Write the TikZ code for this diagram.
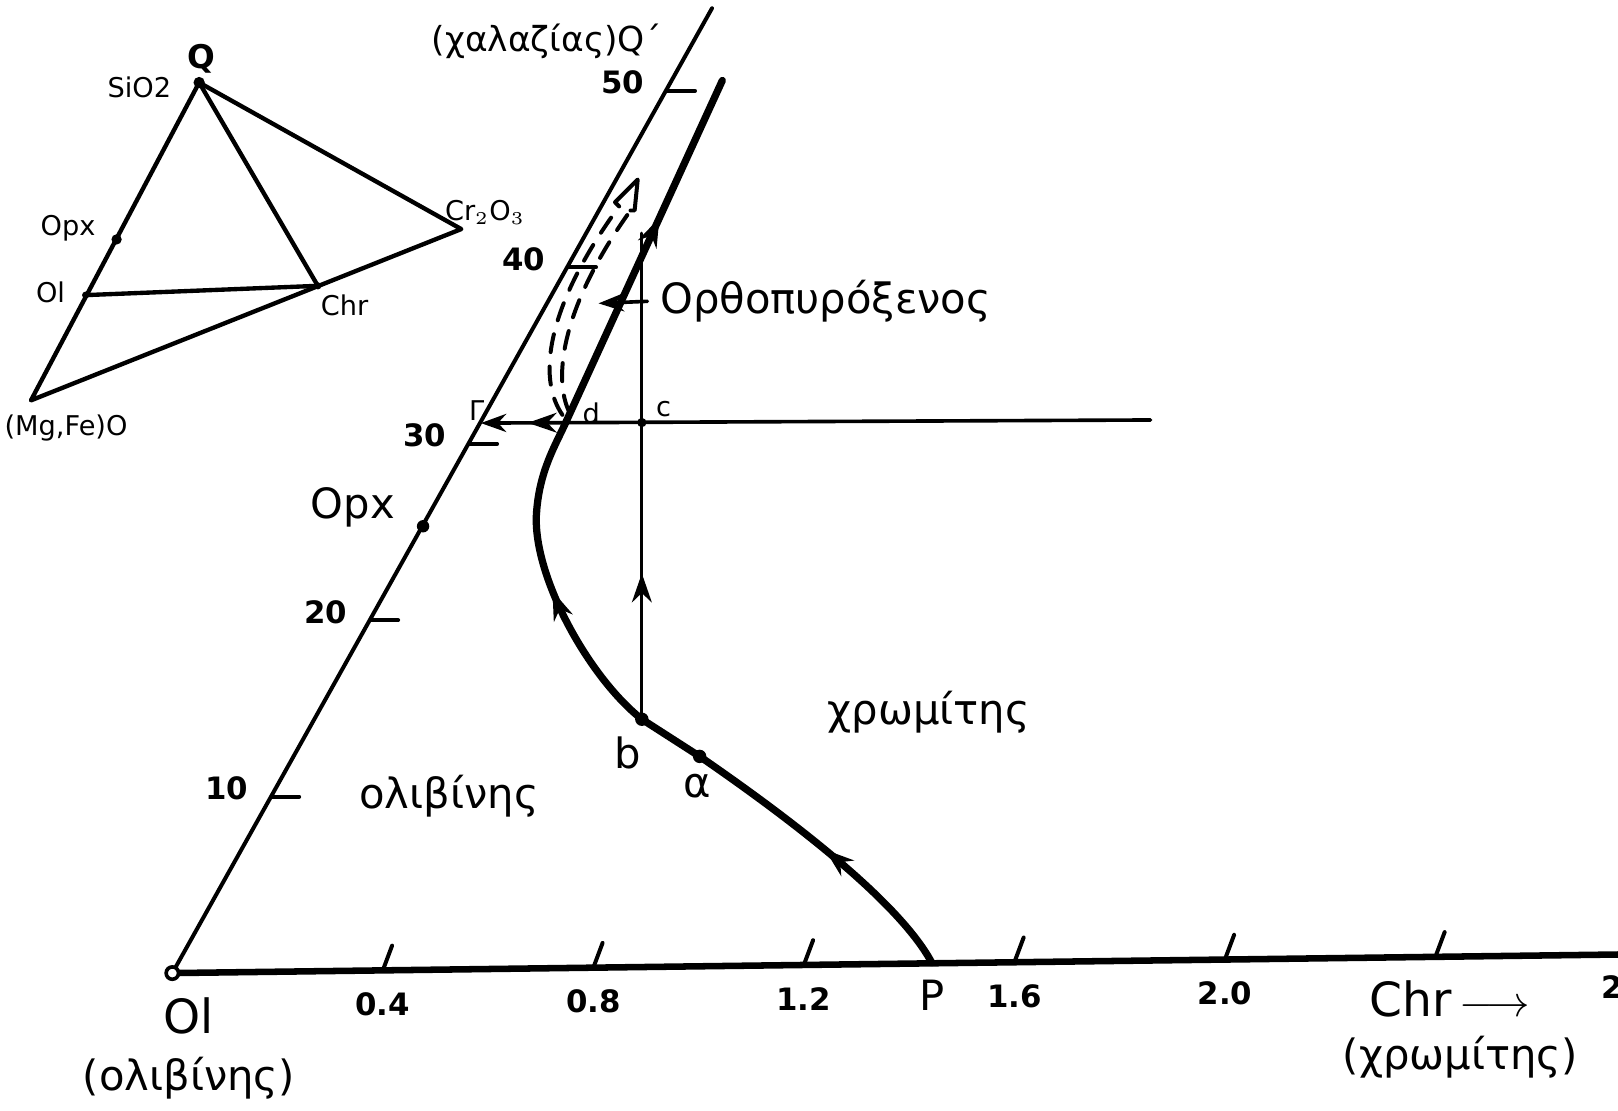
\documentclass[tikz,border=0pt]{standalone}
\usepackage{fontspec}
\setmainfont{DejaVu Sans}
\usetikzlibrary{arrows.meta,positioning,calc,decorations.markings}

\tikzset{
  big/.style={font=\fontsize{13}{15}\selectfont},
  lbl/.style={font=\fontsize{11.5}{13}\selectfont},
  num/.style={font=\fontsize{8.5}{10}\selectfont\bfseries},
  ins/.style={font=\fontsize{7.5}{9}\selectfont},
  edge/.style={line width=1.2pt},
  path/.style={line width=2pt},
  midarrow/.style={postaction={decorate},decoration={markings,
      mark=at position #1 with {\arrow{Stealth[length=8pt,width=5.5pt]}}}},
}

\begin{document}
\begin{tikzpicture}[x=1cm,y=1cm,>=stealth,line cap=round,line join=round]
\useasboundingbox (0,0) rectangle (15.68,10.76);

% small triangle
\coordinate (iq) at (1.93,9.96);
\coordinate (iopx) at (1.13,8.44);
\coordinate (iol) at (0.83,7.90);
\coordinate (ichr) at (3.08,7.99);
\coordinate (icr) at (4.47,8.54);
\coordinate (img) at (0.30,6.88);
\draw[edge] (iq) -- (img) -- (icr) -- cycle;
\draw[edge] (iq) -- (ichr);
\draw[edge] (iol) -- (ichr);
\fill (iq) circle (0.055);
\fill (iopx) circle (0.05);
\fill (iol) circle (0.035);
\fill (ichr) circle (0.035);
\node[ins,font=\fontsize{9}{10}\selectfont\bfseries] (lq) at (1.95,10.19) {Q};
\node[ins] (lsio) at (1.35,9.91) {SiO2};
\node[ins] (liopx) at (0.66,8.55) {Opx};
\node[ins] (liol) at (0.49,7.93) {Ol};
\node[ins] (lichr) at (3.34,7.80) {Chr};
\node[ins] (licr) at (4.70,8.70) {Cr$_2$O$_3$};
\node[ins] (limg) at (0.64,6.61) {(Mg,Fe)O};

% axes
\coordinate (o) at (1.67,1.33);
\coordinate (top) at (6.90,10.68);
\coordinate (xend) at (15.68,1.51);
\draw[line width=1.1pt] (o) -- (top);
\draw[line width=1.8pt] (o) -- (xend);
\draw[fill=white,line width=1pt] (o) circle (0.06);

\foreach \v in {10,20,30,40,50} {
  \coordinate (t\v) at ({1.67+0.0959*\v},{1.33+0.171*\v});
  \draw[line width=1.1pt] (t\v) -- ++(0.27,0);
  \node[num,anchor=east] (l\v) at ($(t\v)+(-0.1,0.08)$) {\v};
}
\node[ins] (lgam) at (4.62,6.78) {Γ};

\foreach \v [count=\i] in {0.4,0.8,1.2,1.6,2.0,2.4} {
  \coordinate (x\i) at ($(o)!{5.1*\v/14.01}!(xend)$);
  \draw[line width=1.1pt] (x\i) -- ++(0.09,0.24);
}
\foreach \i/\t in {1/0.4,2/0.8,3/1.2,4/1.6,5/2.0} {
  \node[num] (n\i) at ($(x\i)+(0,-0.33)$) {\t};
}
\node[num] (n7) at (15.62,1.19) {2};

\node[big] (lol) at (1.83,0.91) {Ol};
\node[lbl] (lolg) at (1.83,0.31) {(ολιβίνης)};
\node[big] (lchr) at (14.05,1.08) {Chr\,$\longrightarrow$};
\node[lbl] (lchrg) at (14.15,0.51) {(χρωμίτης)};
\node[lbl,font=\fontsize{9.5}{11}\selectfont] (lquartz) at (5.30,10.36) {(χαλαζίας)Q΄};

% crystallisation path
\coordinate (p) at (9.03,1.43);
\coordinate (a) at (6.78,3.43);
\coordinate (b) at (6.22,3.79);
\coordinate (turn) at (5.20,5.80);
\coordinate (d) at (5.48,6.66);
\coordinate (qtop) at (7.00,9.98);
\coordinate (c) at (6.22,6.665);
\coordinate (vtop) at (6.22,8.50);
\coordinate (hl) at (4.66,6.66);
\coordinate (hr) at (11.15,6.69);
\coordinate (opx) at (4.10,5.66);

\draw[path,midarrow=0.5] (p) .. controls (8.70,2.05) and (7.55,2.90) .. (a);
\draw[path] (a) -- (b);
\draw[path,midarrow=0.66] (b) .. controls (5.70,4.20) and (5.15,5.20) .. (turn);
\draw[path] (turn) .. controls (5.23,6.20) and (5.38,6.44) .. (d);
\draw[path,midarrow=0.6] (d) -- (qtop);

\draw[line width=0.9pt,midarrow=0.3] (b) -- (vtop);
\draw[line width=1pt,midarrow=0.93,-{Stealth[length=7pt,width=5pt]}] (hr) -- (hl);

\fill (a) circle (0.065);
\fill (b) circle (0.065);
\fill (c) circle (0.045);
\fill (opx) circle (0.06);

% fat dashed arrow
\coordinate (ld) at (6.00,8.76);
\coordinate (rd) at (6.11,8.72);
\coordinate (tip) at (6.18,9.02);
\draw[line width=1.1pt,dash pattern=on 5pt off 4pt] (5.45,6.74) .. controls (5.20,7.10) and (5.30,7.80) .. (ld);
\draw[line width=1.1pt,dash pattern=on 5pt off 4pt] (5.52,6.76) .. controls (5.35,7.10) and (5.45,7.80) .. (rd);
\draw[line width=1.1pt] (ld) -- (5.96,8.80) -- (tip) -- (6.15,8.72) -- (rd);

% labels
\node[lbl] (lopx) at (8.00,7.84) {Ορθοπυρόξενος};
\coordinate (opxtip) at (5.80,7.82);
\draw[line width=1pt,-{Stealth[length=7pt,width=5pt]}] (lopx.west) -- (opxtip);
\node[lbl] (lb) at (6.08,3.46) {b};
\node[lbl] (la) at (6.76,3.14) {α};
\node[ins] (lc) at (6.43,6.80) {c};
\node[ins] (ld2) at (5.73,6.75) {d};
\node[lbl] (lmain) at (3.42,5.84) {Opx};
\node[lbl] (lchrom) at (9.00,3.86) {χρωμίτης};
\node[lbl] (loliv) at (4.35,3.04) {ολιβίνης};
\node[lbl] (lp) at (9.03,1.11) {P};
\end{tikzpicture}
\end{document}
